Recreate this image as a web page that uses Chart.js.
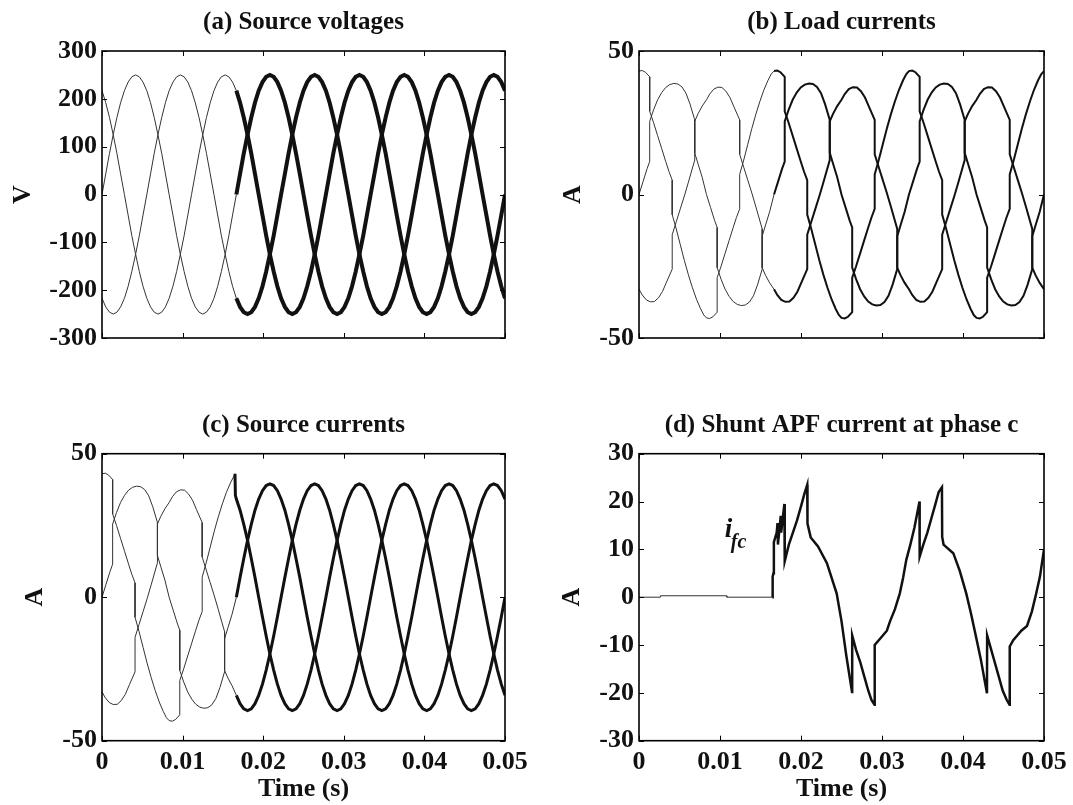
<!DOCTYPE html>
<html>
<head>
<meta charset="utf-8">
<title>Shunt APF waveforms</title>
<script src="https://cdn.jsdelivr.net/npm/chart.js@4.4.1/dist/chart.umd.min.js"></script>
<style>
  body { margin: 0; background: #fff; }
  #fig { position: relative; width: 1073px; height: 805px; overflow: hidden; }
  #fig canvas { position: absolute; }
</style>
</head>
<body>
<div id="fig">
  <canvas id="pa" width="540" height="360" style="left:0;top:0"></canvas>
  <canvas id="pb" width="533" height="360" style="left:540px;top:0"></canvas>
  <canvas id="pc" width="540" height="405" style="left:0;top:400px"></canvas>
  <canvas id="pd" width="533" height="405" style="left:540px;top:400px"></canvas>
</div>
<script>
// time is kept in ms, the axis is labelled in seconds
const xTickLabels = ['0', '0.01', '0.02', '0.03', '0.04', '0.05'];
const SWITCH_MS = 16.45; // filter switched on here, traces get noisy after it

// 10 degree steps of the 60 Hz supply, ms
const gridMs = [0, 0.46, 0.93, 1.39, 1.85, 2.31, 2.78, 3.24, 3.70, 4.17, 4.63, 5.09, 5.56, 6.02, 6.48, 6.94, 7.41, 7.87, 8.33, 8.80,
  9.26, 9.72, 10.19, 10.65, 11.11, 11.57, 12.04, 12.50, 12.96, 13.43, 13.89, 14.35, 14.81, 15.28, 15.74, 16.20,
  16.67, 17.13, 17.59, 18.06, 18.52, 18.98, 19.44, 19.91, 20.37, 20.83, 21.30, 21.76, 22.22, 22.69, 23.15, 23.61, 24.07, 24.54,
  25.00, 25.46, 25.93, 26.39, 26.85, 27.31, 27.78, 28.24, 28.70, 29.17, 29.63, 30.09, 30.56, 31.02, 31.48, 31.94, 32.41, 32.87,
  33.33, 33.80, 34.26, 34.72, 35.19, 35.65, 36.11, 36.57, 37.04, 37.50, 37.96, 38.43, 38.89, 39.35, 39.81, 40.28, 40.74, 41.20,
  41.67, 42.13, 42.59, 43.06, 43.52, 43.98, 44.44, 44.91, 45.37, 45.83, 46.30, 46.76, 47.22, 47.69, 48.15, 48.61, 49.07, 49.54, 50.00];

// (a) source voltages, V
const va = [0,43,86,125,161,192,217,235,246,250,246,235,217,192,161,125,86,43,0,-43,-86,-125,-161,-192,-217,-235,-246,-250,-246,-235,-217,-192,-161,-125,-86,-43,
  0,43,86,125,161,192,217,235,246,250,246,235,217,192,161,125,86,43,0,-43,-86,-125,-161,-192,-217,-235,-246,-250,-246,-235,-217,-192,-161,-125,-86,-43,
  0,43,86,125,161,192,217,235,246,250,246,235,217,192,161,125,86,43,0,-43,-86,-125,-161,-192,-217,-235,-246,-250,-246,-235,-217,-192,-161,-125,-86,-43, 0];
const vb = [-217,-235,-246,-250,-246,-235,-217,-192,-161,-125,-86,-43,0,43,86,125,161,192,217,235,246,250,246,235,217,192,161,125,86,43,0,-43,-86,-125,-161,-192,
  -217,-235,-246,-250,-246,-235,-217,-192,-161,-125,-86,-43,0,43,86,125,161,192,217,235,246,250,246,235,217,192,161,125,86,43,0,-43,-86,-125,-161,-192,
  -217,-235,-246,-250,-246,-235,-217,-192,-161,-125,-86,-43,0,43,86,125,161,192,217,235,246,250,246,235,217,192,161,125,86,43,0,-43,-86,-125,-161,-192, -217];
const vc = [217,192,161,125,86,43,0,-43,-86,-125,-161,-192,-217,-235,-246,-250,-246,-235,-217,-192,-161,-125,-86,-43,0,43,86,125,161,192,217,235,246,250,246,235,
  217,192,161,125,86,43,0,-43,-86,-125,-161,-192,-217,-235,-246,-250,-246,-235,-217,-192,-161,-125,-86,-43,0,43,86,125,161,192,217,235,246,250,246,235,
  217,192,161,125,86,43,0,-43,-86,-125,-161,-192,-217,-235,-246,-250,-246,-235,-217,-192,-161,-125,-86,-43,0,43,86,125,161,192,217,235,246,250,246,235, 217];

// (b) load currents, A (repeated times are the rectifier commutation jumps)
const loadA_t = [0,0.5,1.0,1.32,1.32,1.8,2.3,2.8,3.3,3.8,4.3,4.8,5.3,5.8,6.3,6.88,6.88,7.3,7.8,8.33,8.83,9.33,9.65,9.65,10.13,10.63,11.13,11.63,12.13,12.63,13.13,13.63,14.13,14.63,15.21,15.21,15.63,16.13,
  16.67,17.17,17.67,17.99,17.99,18.47,18.97,19.47,19.97,20.47,20.97,21.47,21.97,22.47,22.97,23.55,23.55,23.97,24.47,25.0,25.5,26.0,26.32,26.32,26.8,27.3,27.8,28.3,28.8,29.3,29.8,30.3,30.8,31.3,31.88,31.88,32.3,32.8,
  33.33,33.83,34.33,34.65,34.65,35.13,35.63,36.13,36.63,37.13,37.63,38.13,38.63,39.13,39.63,40.21,40.21,40.63,41.13,41.67,42.17,42.67,42.98,42.98,43.47,43.97,44.47,44.97,45.47,45.97,46.47,46.97,47.47,47.97,48.55,48.55,48.97,49.47, 50];
const loadA_v = [0,4.5,9,11.5,25.5,29.5,33,35.5,37.3,38.3,38.7,38.5,37.5,35.3,31.5,26,14.5,10.6,6,0,-4.5,-9,-11.5,-25.5,-29.5,-33,-35.5,-37.3,-38.3,-38.7,-38.5,-37.5,-35.3,-31.5,-26,-14.5,-10.6,-6,
  0,4.5,9,11.5,25.5,29.5,33,35.5,37.3,38.3,38.7,38.5,37.5,35.3,31.5,26,14.5,10.6,6,0,-4.5,-9,-11.5,-25.5,-29.5,-33,-35.5,-37.3,-38.3,-38.7,-38.5,-37.5,-35.3,-31.5,-26,-14.5,-10.6,-6,
  0,4.5,9,11.5,25.5,29.5,33,35.5,37.3,38.3,38.7,38.5,37.5,35.3,31.5,26,14.5,10.6,6,0,-4.5,-9,-11.5,-25.5,-29.5,-33,-35.5,-37.3,-38.3,-38.7,-38.5,-37.5,-35.3,-31.5,-26,-14.5,-10.6,-6, 0];
const loadB_t = [0,0.4,0.9,1.4,1.9,2.4,2.9,3.4,4.1,4.1,4.6,5.1,5.6,6.1,6.88,6.88,7.3,7.8,8.33,8.73,9.23,9.73,10.23,10.73,11.23,11.73,12.43,12.43,12.93,13.43,13.93,14.43,15.21,15.21,15.63,16.13,
  16.67,17.07,17.57,18.07,18.57,19.07,19.57,20.07,20.77,20.77,21.27,21.77,22.27,22.77,23.55,23.55,23.97,24.47,25.0,25.4,25.9,26.4,26.9,27.4,27.9,28.4,29.1,29.1,29.6,30.1,30.6,31.1,31.88,31.88,32.3,32.8,
  33.33,33.73,34.23,34.73,35.23,35.73,36.23,36.73,37.43,37.43,37.93,38.43,38.93,39.43,40.21,40.21,40.63,41.13,41.67,42.07,42.57,43.07,43.57,44.07,44.57,45.07,45.77,45.77,46.27,46.77,47.27,47.77,48.55,48.55,48.97,49.47, 50];
const loadB_v = [-33,-35,-36.7,-37.4,-37.3,-36,-33.8,-30.5,-26,-14,-9.5,-5,-0.5,4.3,12,25.5,28.2,30.8,33,35,36.7,37.4,37.3,36,33.8,30.5,26,14,9.5,5,0.5,-4.3,-12,-25.5,-28.2,-30.8,
  -33,-35,-36.7,-37.4,-37.3,-36,-33.8,-30.5,-26,-14,-9.5,-5,-0.5,4.3,12,25.5,28.2,30.8,33,35,36.7,37.4,37.3,36,33.8,30.5,26,14,9.5,5,0.5,-4.3,-12,-25.5,-28.2,-30.8,
  -33,-35,-36.7,-37.4,-37.3,-36,-33.8,-30.5,-26,-14,-9.5,-5,-0.5,4.3,12,25.5,28.2,30.8,33,35,36.7,37.4,37.3,36,33.8,30.5,26,14,9.5,5,0.5,-4.3,-12,-25.5,-28.2,-30.8, -33];
const loadC_t = [0,0.4,0.8,1.32,1.32,1.8,2.3,2.8,3.3,3.7,4.1,4.1,4.6,5.1,5.6,6.1,6.6,7.1,7.6,8.0,8.33,8.73,9.13,9.65,9.65,10.13,10.63,11.13,11.63,12.03,12.43,12.43,12.93,13.43,13.93,14.43,14.93,15.43,15.93,16.33,
  16.67,17.07,17.47,17.99,17.99,18.47,18.97,19.47,19.97,20.37,20.77,20.77,21.27,21.77,22.27,22.77,23.27,23.77,24.27,24.67,25.0,25.4,25.8,26.32,26.32,26.8,27.3,27.8,28.3,28.7,29.1,29.1,29.6,30.1,30.6,31.1,31.6,32.1,32.6,33.0,
  33.33,33.73,34.13,34.65,34.65,35.13,35.63,36.13,36.63,37.03,37.43,37.43,37.93,38.43,38.93,39.43,39.93,40.43,40.93,41.33,41.67,42.07,42.47,42.98,42.98,43.47,43.97,44.47,44.97,45.37,45.77,45.77,46.27,46.77,47.27,47.77,48.27,48.77,49.27,49.67, 50];
const loadC_v = [43,43.2,42.6,41,29,25,20.5,16,11.5,8,5,-7,-12,-17.5,-23,-28,-32.5,-36.5,-39.8,-42,-43,-43.2,-42.6,-41,-29,-25,-20.5,-16,-11.5,-8,-5,7,12,17.5,23,28,32.5,36.5,39.8,42,
  43,43.2,42.6,41,29,25,20.5,16,11.5,8,5,-7,-12,-17.5,-23,-28,-32.5,-36.5,-39.8,-42,-43,-43.2,-42.6,-41,-29,-25,-20.5,-16,-11.5,-8,-5,7,12,17.5,23,28,32.5,36.5,39.8,42,
  43,43.2,42.6,41,29,25,20.5,16,11.5,8,5,-7,-12,-17.5,-23,-28,-32.5,-36.5,-39.8,-42,-43,-43.2,-42.6,-41,-29,-25,-20.5,-16,-11.5,-8,-5,7,12,17.5,23,28,32.5,36.5,39.8,42, 43];

// (c) source currents: same as the load until switch-on, then sinusoidal on gridMs from 16.67 ms
const srcA_post = [0,6.9,13.5,19.8,25.4,30.3,34.2,37.1,38.9,39.5,38.9,37.1,34.2,30.3,25.4,19.8,13.5,6.9,0,-6.9,-13.5,-19.8,-25.4,-30.3,-34.2,-37.1,-38.9,-39.5,-38.9,-37.1,-34.2,-30.3,-25.4,-19.8,-13.5,-6.9,
  0,6.9,13.5,19.8,25.4,30.3,34.2,37.1,38.9,39.5,38.9,37.1,34.2,30.3,25.4,19.8,13.5,6.9,0,-6.9,-13.5,-19.8,-25.4,-30.3,-34.2,-37.1,-38.9,-39.5,-38.9,-37.1,-34.2,-30.3,-25.4,-19.8,-13.5,-6.9, 0];
const srcB_post = [-34.2,-37.1,-38.9,-39.5,-38.9,-37.1,-34.2,-30.3,-25.4,-19.8,-13.5,-6.9,0,6.9,13.5,19.8,25.4,30.3,34.2,37.1,38.9,39.5,38.9,37.1,34.2,30.3,25.4,19.8,13.5,6.9,0,-6.9,-13.5,-19.8,-25.4,-30.3,
  -34.2,-37.1,-38.9,-39.5,-38.9,-37.1,-34.2,-30.3,-25.4,-19.8,-13.5,-6.9,0,6.9,13.5,19.8,25.4,30.3,34.2,37.1,38.9,39.5,38.9,37.1,34.2,30.3,25.4,19.8,13.5,6.9,0,-6.9,-13.5,-19.8,-25.4,-30.3, -34.2];
const srcC_post = [34.2,30.3,25.4,19.8,13.5,6.9,0,-6.9,-13.5,-19.8,-25.4,-30.3,-34.2,-37.1,-38.9,-39.5,-38.9,-37.1,-34.2,-30.3,-25.4,-19.8,-13.5,-6.9,0,6.9,13.5,19.8,25.4,30.3,34.2,37.1,38.9,39.5,38.9,37.1,
  34.2,30.3,25.4,19.8,13.5,6.9,0,-6.9,-13.5,-19.8,-25.4,-30.3,-34.2,-37.1,-38.9,-39.5,-38.9,-37.1,-34.2,-30.3,-25.4,-19.8,-13.5,-6.9,0,6.9,13.5,19.8,25.4,30.3,34.2,37.1,38.9,39.5,38.9,37.1, 34.2];
const srcC_switch_t = [16.5, 16.55];
const srcC_switch_v = [43, 35.5];

// (d) shunt APF current, phase c, A
const ifc_t = [0,2.6,2.65,10.8,10.85,16.45,16.5,16.6,16.65,17.0,17.1,17.15,17.5,17.55,17.95,17.99,18.5,19.0,19.5,20.0,20.4,20.77,20.8,21.2,22.1,23.2,24.4,25.0,25.6,26.3,26.32,
  26.8,27.3,27.8,28.3,28.7,29.08,29.1,29.6,30.1,30.6,31.0,31.6,32.2,32.6,33.0,33.5,34.0,34.63,34.65,35.1,35.6,36.1,36.6,37.0,37.4,37.43,37.6,38.8,39.6,40.4,
  41.0,41.6,42.2,42.96,42.98,43.4,43.9,44.4,44.9,45.4,45.75,45.77,46.2,46.7,47.2,47.9,48.5,49.0,49.5,50.0];
const ifc_v = [0,0,0.3,0.3,0,0,4.3,5,11.5,13.5,15.5,11,17,13.5,19.5,7.5,11,13.5,16,19,21.5,23.5,15.4,12.5,10.6,7.1,0.8,-5,-12.3,-19.8,-8,
  -11,-13.5,-16.5,-19.5,-21.5,-22.5,-10,-9,-8,-7,-5,-2.5,0.8,4,7.8,11,14.5,20,8.5,11,13.5,16.5,19.5,22,23,12.6,11,9.2,5.5,0.8,
  -3.5,-8.2,-13,-20.1,-8,-10.5,-13.5,-16.5,-19.5,-21.5,-22.5,-10.3,-9,-8,-7,-6,-3,0.5,4.3,10];

const FONT = '"Liberation Serif", "Times New Roman", serif';
const INK = '#111';

function pts(t, v) {
    return t.map((x, i) => ({ x: x, y: v[i] }));
}

const postMs = gridMs.slice(36);

// MATLAB-style box with inward ticks on all four sides
const frame = {
    id: 'frame',
    afterDraw(chart) {
        const { ctx, chartArea: a } = chart;
        const sx = chart.scales.x, sy = chart.scales.y;
        ctx.save();
        ctx.strokeStyle = '#000';
        ctx.lineWidth = 1;
        ctx.beginPath();
        sx.ticks.forEach(tk => {
            const p = Math.round(sx.getPixelForValue(tk.value)) + 0.5;
            ctx.moveTo(p, a.bottom); ctx.lineTo(p, a.bottom - 5);
            ctx.moveTo(p, a.top); ctx.lineTo(p, a.top + 5);
        });
        sy.ticks.forEach(tk => {
            const p = Math.round(sy.getPixelForValue(tk.value)) + 0.5;
            ctx.moveTo(a.left, p); ctx.lineTo(a.left + 5, p);
            ctx.moveTo(a.right, p); ctx.lineTo(a.right - 5, p);
        });
        ctx.stroke();
        ctx.lineWidth = 1.6;
        ctx.strokeRect(a.left, a.top, a.right - a.left, a.bottom - a.top);
        ctx.restore();
    }
};

const ifcLabel = {
    id: 'ifcLabel',
    afterDraw(chart) {
        const ctx = chart.ctx;
        const x = chart.scales.x.getPixelForValue(10.6);
        const y = chart.scales.y.getPixelForValue(12.6);
        ctx.save();
        ctx.fillStyle = INK;
        ctx.textBaseline = 'alphabetic';
        ctx.font = 'italic bold 27px ' + FONT;
        ctx.fillText('i', x, y);
        ctx.font = 'italic bold 20px ' + FONT;
        ctx.fillText('fc', x + 6, y + 11);
        ctx.restore();
    }
};

function makePanel(id, p) {
    const tickFont = { family: FONT, size: 26, weight: 'bold', lineHeight: 1.2 };
    return new Chart(document.getElementById(id), {
        type: 'line',
        data: {
            datasets: p.series.map(s => ({
                data: s,
                borderColor: INK,
                borderWidth: 1,
                pointRadius: 0,
                tension: 0,
                segment: {
                    borderWidth: c => (c.p0.parsed.x >= SWITCH_MS ? p.noisy : 1),
                    borderColor: c => (c.p0.parsed.x >= SWITCH_MS ? '#111' : '#333')
                }
            }))
        },
        options: {
            responsive: false,
            animation: false,
            events: [],
            layout: { padding: { left: 0, right: p.padRight, top: 0, bottom: 0 } },
            plugins: {
                legend: { display: false },
                tooltip: { enabled: false },
                title: {
                    display: true,
                    text: p.title,
                    fullSize: false,
                    color: INK,
                    font: { family: FONT, size: 25, weight: 'bold', lineHeight: 1.2 },
                    padding: p.titlePad
                }
            },
            scales: {
                x: {
                    type: 'linear',
                    min: 0,
                    max: 50,
                    grid: { display: false, drawTicks: false },
                    border: { display: false },
                    ticks: {
                        display: p.showX,
                        stepSize: 10,
                        maxRotation: 0,
                        autoSkip: false,
                        padding: 6,
                        color: INK,
                        font: tickFont,
                        callback: v => xTickLabels[Math.round(v / 10)]
                    },
                    title: { display: p.showX, text: 'Time (s)', color: INK, font: tickFont, padding: { top: 0, bottom: 0 } },
                    afterFit: s => { s.height = p.xHeight; }
                },
                y: {
                    min: p.yMin,
                    max: p.yMax,
                    grid: { display: false, drawTicks: false },
                    border: { display: false },
                    ticks: { stepSize: p.yStep, padding: 5, color: INK, font: tickFont },
                    title: { display: true, text: p.yLabel, color: INK, font: tickFont, padding: { top: p.yTitlePad, bottom: 0 } },
                    afterFit: s => { s.width = p.yWidth; }
                }
            }
        },
        plugins: [frame].concat(p.extra || [])
    });
}

makePanel('pa', {
    title: '(a) Source voltages', yLabel: 'V', yMin: -300, yMax: 300, yStep: 100,
    yWidth: 102, padRight: 35, xHeight: 22, showX: false,
    titlePad: { top: 8, bottom: 13 }, yTitlePad: 8, noisy: 4,
    series: [pts(gridMs, va), pts(gridMs, vb), pts(gridMs, vc)]
});

makePanel('pb', {
    title: '(b) Load currents', yLabel: 'A', yMin: -50, yMax: 50, yStep: 50,
    yWidth: 99, padRight: 29, xHeight: 22, showX: false,
    titlePad: { top: 8, bottom: 13 }, yTitlePad: 17.4, noisy: 2,
    series: [pts(loadA_t, loadA_v), pts(loadB_t, loadB_v), pts(loadC_t, loadC_v)]
});

makePanel('pc', {
    title: '(c) Source currents', yLabel: 'A', yMin: -50, yMax: 50, yStep: 50,
    yWidth: 102, padRight: 35, xHeight: 64.3, showX: true,
    titlePad: { top: 11, bottom: 12.7 }, yTitlePad: 19.4, noisy: 3,
    series: [
        pts(loadA_t.slice(0, 38).concat(postMs), loadA_v.slice(0, 38).concat(srcA_post)),
        pts(loadB_t.slice(0, 36).concat(postMs), loadB_v.slice(0, 36).concat(srcB_post)),
        pts(loadC_t.slice(0, 40).concat(srcC_switch_t, postMs), loadC_v.slice(0, 40).concat(srcC_switch_v, srcC_post))
    ]
});

makePanel('pd', {
    title: '(d) Shunt APF current at phase c', yLabel: 'A', yMin: -30, yMax: 30, yStep: 10,
    yWidth: 99, padRight: 29, xHeight: 64.3, showX: true,
    titlePad: { top: 11, bottom: 12.7 }, yTitlePad: 16.4, noisy: 2.5,
    series: [pts(ifc_t, ifc_v)],
    extra: [ifcLabel]
});
</script>
</body>
</html>
